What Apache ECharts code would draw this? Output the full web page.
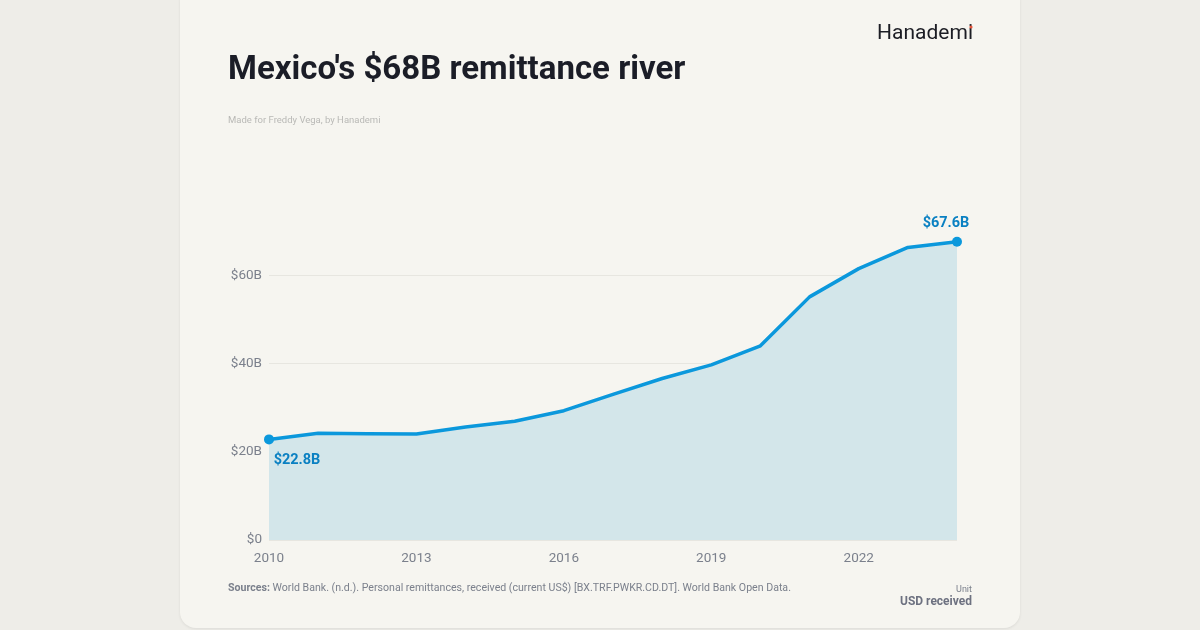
<!DOCTYPE html>
<html lang="en">
<head>
    <meta charset="UTF-8">
    <title>Mexico remittances</title>
    <script src="https://cdn.jsdelivr.net/npm/echarts@6/dist/echarts.min.js"></script>
</head>
<style>
    *{
        margin: 0;
        padding: 0;
    }
    html,body{
        width: 100%;
        height: 100%;
        overflow: hidden;
        background: #eeede8;
    }
    .card{
        position: absolute;
        left: 180px;
        top: -16px;
        width: 840px;
        height: 644px;
        background: #f6f5f0;
        border-radius: 16px;
        box-shadow: 0 1px 3px rgba(0,0,0,0.08);
    }
    .container{
        position: absolute;
        left: 0;
        top: 0;
        width: 1200px;
        height: 630px;
    }
</style>
<body>
<div class="card"></div>
<div class="container"></div>
<script>
    // World Bank, personal remittances received by Mexico, billions of USD
    let years = ['2010','2011','2012','2013','2014','2015','2016','2017','2018','2019','2020','2021','2022','2023','2024'];
    let remittances = [22.8, 24.2, 24.1, 24.0, 25.6, 26.9, 29.3, 33.0, 36.6, 39.7, 44.0, 55.1, 61.5, 66.3, 67.6];

    let font = 'Roboto, "Noto Sans", sans-serif';
    let blue = '#0b98dc';
    let labelBlue = '#0a80c2';
    let grey = '#7b808c';

    let mycharts = echarts.init(document.querySelector('.container'), null, {renderer: 'canvas'});

    let last = remittances.length - 1;
    let points = remittances.map((v, i) => {
        if (i === 0) {
            return {
                value: v,
                symbol: 'circle',
                symbolSize: 10,
                label: {show: true, position: 'bottom', offset: [28, 3], formatter: '$' + v.toFixed(1) + 'B'}
            };
        }
        if (i === last) {
            return {
                value: v,
                symbol: 'circle',
                symbolSize: 10,
                label: {show: true, position: 'top', offset: [-11, -1], formatter: '$' + v.toFixed(1) + 'B'}
            };
        }
        return {value: v, symbol: 'none'};
    });

    let options = {
        animation: false,
        textStyle: {fontFamily: font},
        title: [{
            text: "Mexico's $68B remittance river",
            left: 228,
            top: 54,
            padding: 0,
            textStyle: {fontSize: 33, fontWeight: 'bold', color: '#1b1d27', fontFamily: font}
        }, {
            text: 'Made for Freddy Vega, by Hanademi',
            left: 228,
            top: 116,
            padding: 0,
            textStyle: {fontSize: 9.5, fontWeight: 'normal', color: '#b9b9b6', fontFamily: font}
        }],
        grid: {
            left: 269,
            right: 243,
            top: 187,
            bottom: 90
        },
        xAxis: {
            type: 'category',
            data: years,
            boundaryGap: false,
            axisLine: {show: false},
            axisTick: {show: false},
            axisLabel: {
                interval: 2,
                margin: 12,
                color: grey,
                fontSize: 13.5,
                fontFamily: font
            }
        },
        yAxis: {
            type: 'value',
            min: 0,
            max: 80,
            interval: 20,
            axisLine: {show: false},
            axisTick: {show: false},
            axisLabel: {
                showMaxLabel: false,
                margin: 7,
                color: grey,
                fontSize: 13.5,
                fontFamily: font,
                formatter: v => v === 0 ? '$0' : '$' + v + 'B'
            },
            splitLine: {
                showMaxLine: false,
                lineStyle: {color: '#e7e6e0', width: 1}
            }
        },
        series: [{
            type: 'line',
            data: points,
            showSymbol: true,
            lineStyle: {color: blue, width: 3.5},
            itemStyle: {color: blue},
            areaStyle: {color: '#d3e6ea', opacity: 1},
            label: {
                color: labelBlue,
                fontSize: 14.5,
                fontWeight: 'bold',
                fontFamily: font
            }
        }],
        graphic: [{
            type: 'text',
            right: 227,
            top: 23,
            style: {text: 'Hanademi', fontSize: 21, fontFamily: font, fill: '#1c1d24'}
        }, {
            type: 'circle',
            shape: {cx: 971, cy: 27, r: 1.6},
            style: {fill: '#e8553b'}
        }, {
            type: 'text',
            left: 228,
            top: 583,
            style: {
                text: '{b|Sources:} World Bank. (n.d.). Personal remittances, received (current US$) [BX.TRF.PWKR.CD.DT]. World Bank Open Data.',
                fontSize: 10.6,
                fontFamily: font,
                fill: grey,
                rich: {b: {fontWeight: 'bold', fontSize: 10.6, fontFamily: font, fill: grey}}
            }
        }, {
            type: 'text',
            right: 228,
            top: 585,
            style: {text: 'Unit', fontSize: 9, fontFamily: font, fill: grey, align: 'right'}
        }, {
            type: 'text',
            right: 228,
            top: 596,
            style: {text: 'USD received', fontSize: 12, fontWeight: 'bold', fontFamily: font, fill: '#6d7180', align: 'right'}
        }]
    };

    mycharts.setOption(options);
</script>
</body>
</html>
